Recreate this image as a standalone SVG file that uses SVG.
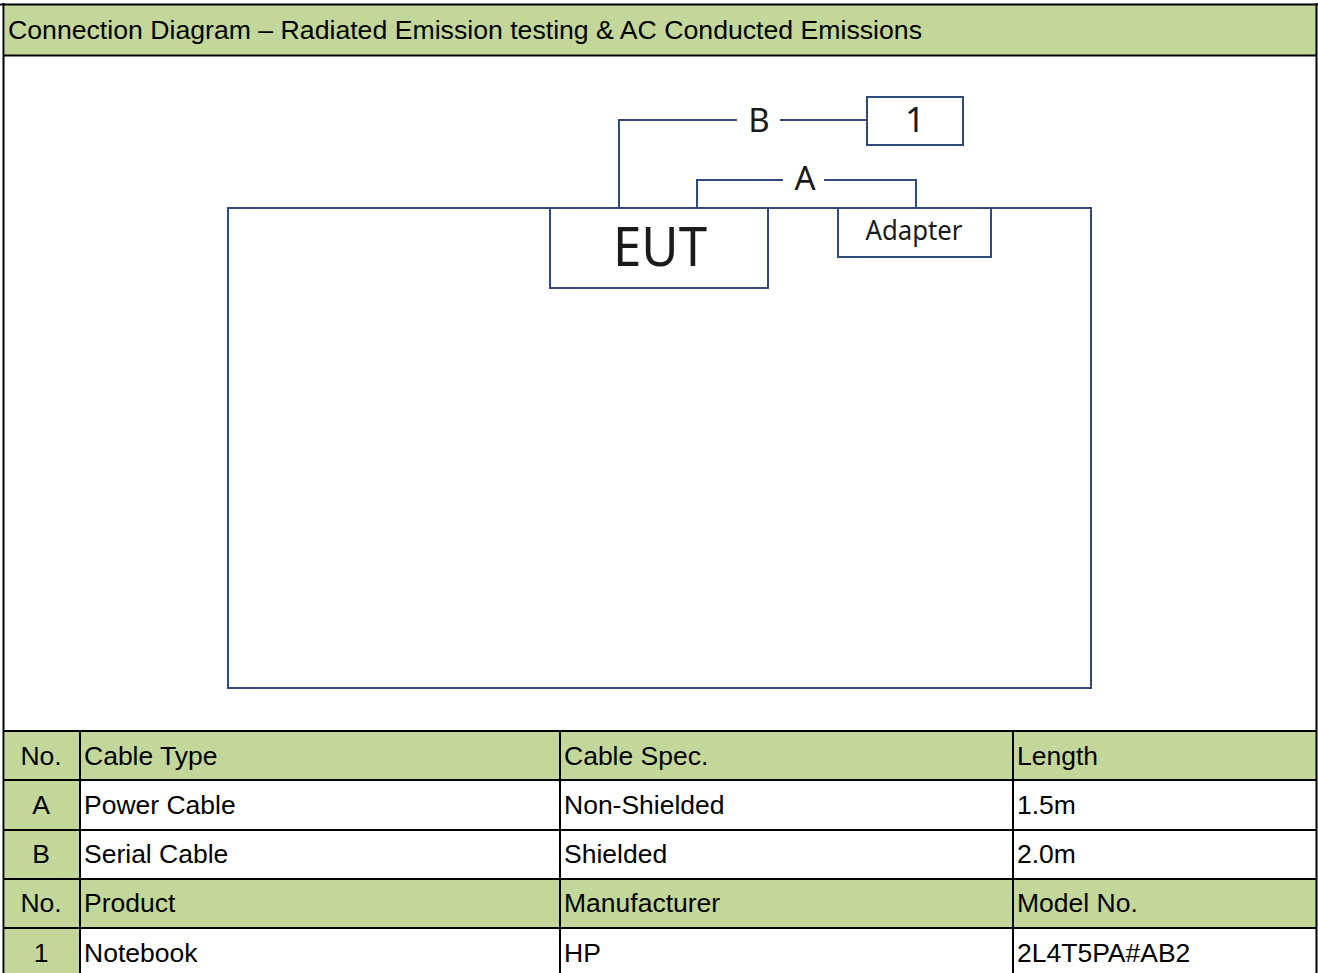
<svg xmlns="http://www.w3.org/2000/svg" width="1318" height="973" viewBox="0 0 1318 973">
<style>
.t{font-family:"Liberation Sans",Arial,sans-serif;font-size:26.5px;fill:#000}
.c{text-anchor:middle}
.d{font-family:"Noto Sans","Open Sans",sans-serif;fill:#1a1a1a;text-anchor:middle}
.box{fill:#fff;stroke:#2F4B7C;stroke-width:2}
.wire{fill:none;stroke:#2F4B7C;stroke-width:2}
.g{fill:#C4D79B}
.ln{stroke:#000;stroke-width:2;fill:none}
</style>
<rect x="0" y="0" width="1318" height="973" fill="#fff"/>
<g id="header">
<rect class="g" x="5" y="5" width="1311" height="50"/>
<text class="t" x="8" y="39" textLength="914" lengthAdjust="spacingAndGlyphs">Connection Diagram – Radiated Emission testing &amp; AC Conducted Emissions</text>
</g>
<g id="table-area">
<rect class="box" x="228" y="208" width="863" height="480"/>
</g>
<g id="connectors">
<polyline class="wire" points="619,208 619,120 737,120"/>
<line class="wire" x1="780" y1="120" x2="867" y2="120"/>
<polyline class="wire" points="697,208 697,180 783,180"/>
<polyline class="wire" points="824,180 916,180 916,208"/>
<text class="d" x="759" y="132" font-size="33">B</text>
<text class="d" x="805" y="190" font-size="33">A</text>
</g>
<g id="eut">
<rect class="box" x="550" y="208" width="218" height="80"/>
<text class="d" x="660" y="266" font-size="54" textLength="94" lengthAdjust="spacingAndGlyphs">EUT</text>
</g>
<g id="adapter">
<rect class="box" x="838" y="208" width="153" height="49"/>
<text class="d" x="914" y="240" font-size="27" textLength="97" lengthAdjust="spacingAndGlyphs">Adapter</text>
</g>
<g id="node1">
<rect class="box" x="867" y="97" width="96" height="48"/>
<text class="d" x="915" y="132" font-size="35">1</text>
</g>
<g id="cable-table">
<rect class="g" x="5" y="731" width="1311" height="49"/>
<rect class="g" x="5" y="879" width="1311" height="49"/>
<rect class="g" x="5" y="780" width="75" height="193"/>
<line class="ln" x1="3" y1="731" x2="1317" y2="731" stroke-width="3"/>
<line class="ln" x1="3" y1="780" x2="1317" y2="780"/>
<line class="ln" x1="3" y1="830" x2="1317" y2="830"/>
<line class="ln" x1="3" y1="879" x2="1317" y2="879"/>
<line class="ln" x1="3" y1="928" x2="1317" y2="928"/>
<line class="ln" x1="80" y1="731" x2="80" y2="973"/>
<line class="ln" x1="560" y1="731" x2="560" y2="973"/>
<line class="ln" x1="1013" y1="731" x2="1013" y2="973"/>
<text class="t c" x="41" y="765">No.</text>
<text class="t" x="84" y="765">Cable Type</text>
<text class="t" x="564" y="765">Cable Spec.</text>
<text class="t" x="1017" y="765">Length</text>
<text class="t c" x="41" y="814">A</text>
<text class="t" x="84" y="814">Power Cable</text>
<text class="t" x="564" y="814">Non-Shielded</text>
<text class="t" x="1017" y="814">1.5m</text>
<text class="t c" x="41" y="863">B</text>
<text class="t" x="84" y="863">Serial Cable</text>
<text class="t" x="564" y="863">Shielded</text>
<text class="t" x="1017" y="863">2.0m</text>
<text class="t c" x="41" y="912">No.</text>
<text class="t" x="84" y="912">Product</text>
<text class="t" x="564" y="912">Manufacturer</text>
<text class="t" x="1017" y="912">Model No.</text>
<text class="t c" x="41" y="962">1</text>
<text class="t" x="84" y="962">Notebook</text>
<text class="t" x="564" y="962">HP</text>
<text class="t" x="1017" y="962">2L4T5PA#AB2</text>
</g>
<g id="frame">
<line class="ln" x1="0" y1="4.5" x2="1318" y2="4.5" stroke-width="3"/>
<line class="ln" x1="3" y1="55.5" x2="1317" y2="55.5" stroke-width="3"/>
<line class="ln" x1="3.5" y1="3" x2="3.5" y2="973" stroke-width="4"/>
<line class="ln" x1="1316.5" y1="3" x2="1316.5" y2="973" stroke-width="2"/>
</g>
</svg>
